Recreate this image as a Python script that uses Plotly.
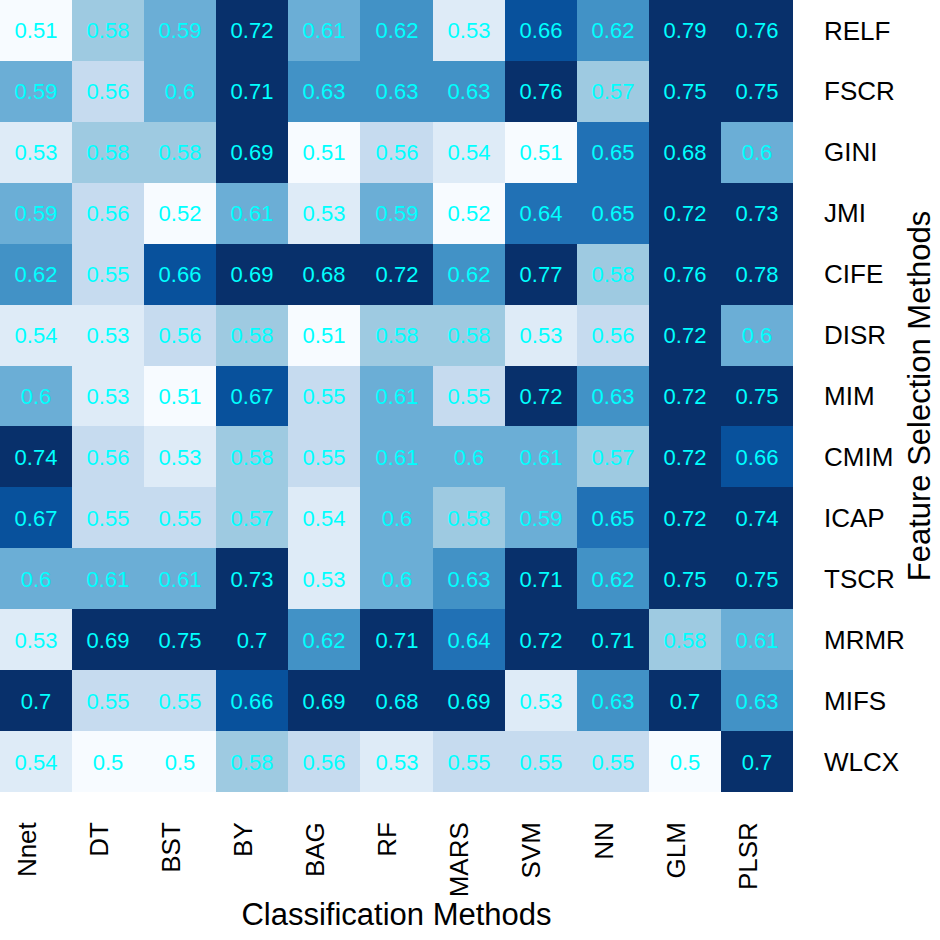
import numpy as np
import plotly.graph_objects as go

classifiers = ["Nnet", "DT", "BST", "BY", "BAG", "RF", "MARS", "SVM", "NN", "GLM", "PLSR"]
selectors = ["RELF", "FSCR", "GINI", "JMI", "CIFE", "DISR", "MIM", "CMIM", "ICAP",
             "TSCR", "MRMR", "MIFS", "WLCX"]

RELF = [0.51, 0.58, 0.59, 0.72, 0.61, 0.62, 0.53, 0.66, 0.62, 0.79, 0.76]
FSCR = [0.59, 0.56, 0.60, 0.71, 0.63, 0.63, 0.63, 0.76, 0.57, 0.75, 0.75]
GINI = [0.53, 0.58, 0.58, 0.69, 0.51, 0.56, 0.54, 0.51, 0.65, 0.68, 0.60]
JMI = [0.59, 0.56, 0.52, 0.61, 0.53, 0.59, 0.52, 0.64, 0.65, 0.72, 0.73]
CIFE = [0.62, 0.55, 0.66, 0.69, 0.68, 0.72, 0.62, 0.77, 0.58, 0.76, 0.78]
DISR = [0.54, 0.53, 0.56, 0.58, 0.51, 0.58, 0.58, 0.53, 0.56, 0.72, 0.60]
MIM = [0.60, 0.53, 0.51, 0.67, 0.55, 0.61, 0.55, 0.72, 0.63, 0.72, 0.75]
CMIM = [0.74, 0.56, 0.53, 0.58, 0.55, 0.61, 0.60, 0.61, 0.57, 0.72, 0.66]
ICAP = [0.67, 0.55, 0.55, 0.57, 0.54, 0.60, 0.58, 0.59, 0.65, 0.72, 0.74]
TSCR = [0.60, 0.61, 0.61, 0.73, 0.53, 0.60, 0.63, 0.71, 0.62, 0.75, 0.75]
MRMR = [0.53, 0.69, 0.75, 0.70, 0.62, 0.71, 0.64, 0.72, 0.71, 0.58, 0.61]
MIFS = [0.70, 0.55, 0.55, 0.66, 0.69, 0.68, 0.69, 0.53, 0.63, 0.70, 0.63]
WLCX = [0.54, 0.50, 0.50, 0.58, 0.56, 0.53, 0.55, 0.55, 0.55, 0.50, 0.70]

# colour classes (upper edges of each class)
bin_edges = [0.525, 0.545, 0.565, 0.585, 0.615, 0.635, 0.655, 0.675]
blues = ["#f7fbff", "#deebf7", "#c6dbef", "#9ecae1", "#6baed6",
         "#4292c6", "#2171b5", "#08519c", "#08306b"]

values = np.array([RELF, FSCR, GINI, JMI, CIFE, DISR, MIM, CMIM, ICAP,
                   TSCR, MRMR, MIFS, WLCX])
classes = np.digitize(values, bin_edges)
labels = [[f"{v:g}" for v in row] for row in values]

n = len(blues)
colorscale = []
for i, c in enumerate(blues):
    colorscale.append([i / n, c])
    colorscale.append([(i + 1) / n, c])

font_fam = "Liberation Sans, Arial, sans-serif"

fig = go.Figure(go.Heatmap(
    z=classes,
    x=list(range(len(classifiers))),
    y=selectors,
    zmin=-0.5,
    zmax=n - 0.5,
    colorscale=colorscale,
    showscale=False,
    text=labels,
    texttemplate="%{text}",
    textfont=dict(family=font_fam, size=22, color="#00ffff"),
    hoverinfo="skip",
    xgap=0,
    ygap=0,
))

ncol = len(classifiers)
label_shift = 0.12  # tick labels sit slightly left of the column centres

fig.update_layout(
    width=940,
    height=940,
    margin=dict(l=0, r=147, t=0, b=148, pad=0),
    paper_bgcolor="white",
    plot_bgcolor="white",
    font=dict(family=font_fam, color="black"),
    xaxis=dict(
        range=[-0.5, ncol - 0.5],
        showticklabels=False,
        ticks="",
        showgrid=False,
        zeroline=False,
        showline=False,
        automargin=False,
    ),
    xaxis2=dict(
        overlaying="x",
        anchor="y",
        side="bottom",
        range=[-0.5 + label_shift, ncol - 0.5 + label_shift],
        tickmode="array",
        tickvals=list(range(ncol)),
        ticktext=classifiers,
        tickangle=-90,
        tickfont=dict(size=26, family=font_fam, color="black"),
        ticks="",
        ticklabelstandoff=24,
        showgrid=False,
        zeroline=False,
        showline=False,
        title=dict(text="Classification Methods", font=dict(size=31, family=font_fam, color="black"), standoff=2),
        automargin=False,
    ),
    yaxis=dict(
        type="category",
        side="right",
        autorange="reversed",
        tickfont=dict(size=26, family=font_fam, color="black"),
        ticks="",
        ticklabelstandoff=30,
        showgrid=False,
        zeroline=False,
        showline=False,
        title=dict(text="Feature Selection Methods", font=dict(size=31, family=font_fam, color="black"), standoff=4),
        automargin=False,
    ),
)
# an empty helper trace so the second x axis is drawn
fig.add_trace(go.Scatter(x=[], y=[], xaxis="x2", yaxis="y", showlegend=False, hoverinfo="skip"))

fig.write_html("out.html", config={"displayModeBar": False},
               post_script="document.body.style.margin='0';")
